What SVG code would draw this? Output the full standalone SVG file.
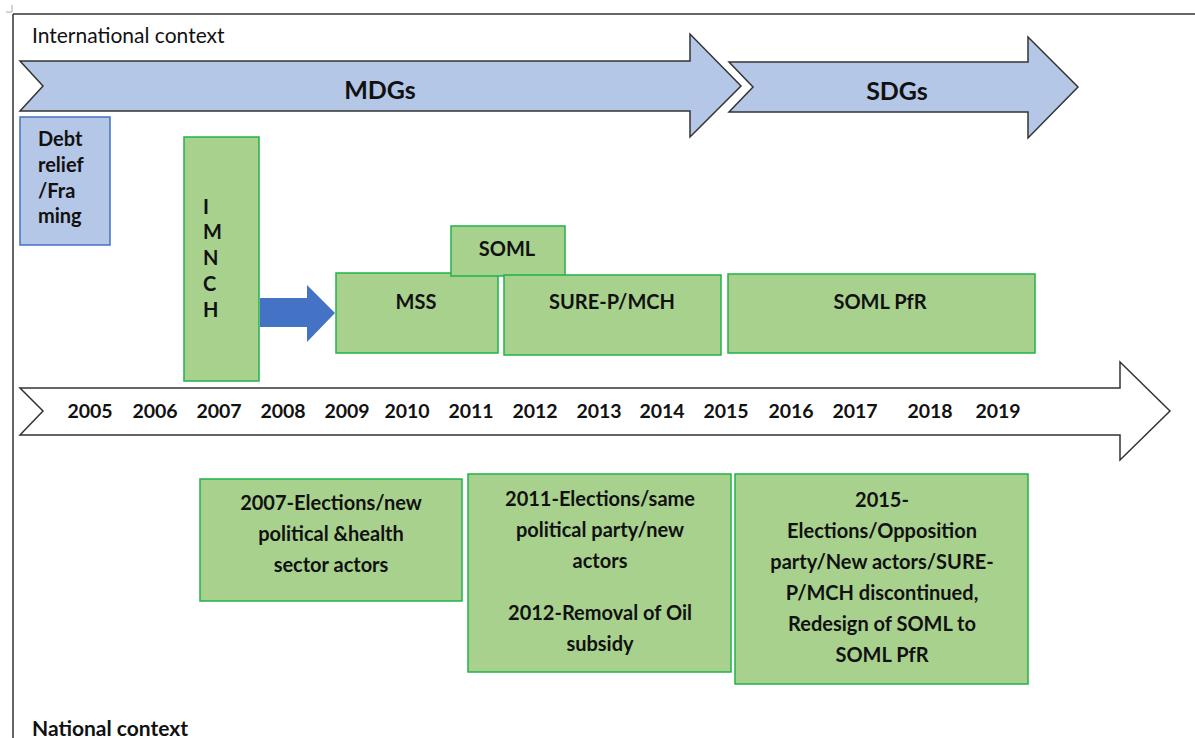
<svg xmlns="http://www.w3.org/2000/svg" width="1195" height="738" viewBox="0 0 1195 738">
  <style>
    text { font-family: Lato, "Liberation Sans", sans-serif; fill: #111; }
    .ctx { font-size: 21px; }
    .band { fill: #b4c7e7; stroke: #333; stroke-width: 1.5; }
    .band-label { font-size: 25px; font-weight: bold; text-anchor: middle; }
    .blue-box { fill: #b4c7e7; stroke: #4472c4; stroke-width: 1.5; }
    .green-box { fill: #a9d18e; stroke: #1fb24a; stroke-width: 1.5; }
    .lbl { font-size: 20px; font-weight: bold; }
    .mid { text-anchor: middle; }
    .year { font-size: 19.5px; font-weight: bold; text-anchor: middle; }
    .event { font-size: 20px; font-weight: bold; text-anchor: middle; }
    .timeline { fill: #fff; stroke: #333; stroke-width: 1.5; }
  </style>

  <!-- page frame -->
  <g id="frame" fill="none" stroke="#333" stroke-width="1.5">
    <line x1="13" y1="14" x2="1195" y2="14"/>
    <line x1="13" y1="14" x2="13" y2="738"/>
    <path d="M12 5 V12 H6" stroke="#aaa" stroke-width="1"/>
  </g>

  <text class="ctx" x="32" y="43">International context</text>
  <text class="ctx" x="32" y="736" font-weight="bold">National context</text>

  <!-- goal bands -->
  <g id="mdgs">
    <path class="band" d="M20 61 H690 V34 L741 86 L690 137 V111 H20 L43 86 Z"/>
    <text class="band-label" x="380" y="99">MDGs</text>
  </g>
  <g id="sdgs">
    <path class="band" d="M729 62 H1028 V37 L1078 87 L1028 138 V112 H729 L753 87 Z"/>
    <text class="band-label" x="897" y="100">SDGs</text>
  </g>

  <!-- international inputs -->
  <g id="debt-relief">
    <rect class="blue-box" x="20" y="117" width="90" height="128"/>
    <text class="lbl" x="38" y="146">Debt</text>
    <text class="lbl" x="38" y="172">relief</text>
    <text class="lbl" x="38" y="198">/Fra</text>
    <text class="lbl" x="38" y="223">ming</text>
  </g>

  <g id="imnch">
    <rect class="green-box" x="184" y="137" width="75" height="244"/>
    <text class="lbl" x="203" y="214" font-size="18">I</text>
    <text class="lbl" x="203" y="239" font-size="18">M</text>
    <text class="lbl" x="203" y="265" font-size="18">N</text>
    <text class="lbl" x="203" y="291" font-size="18">C</text>
    <text class="lbl" x="203" y="317" font-size="18">H</text>
  </g>

  <!-- programme boxes -->
  <g id="mss">
    <rect class="green-box" x="336" y="273" width="162" height="80"/>
    <text class="lbl mid" x="416" y="309">MSS</text>
  </g>
  <g id="soml">
    <rect class="green-box" x="451" y="226" width="114" height="50"/>
    <text class="lbl mid" x="507" y="256" font-size="19">SOML</text>
  </g>
  <g id="sure-p">
    <rect class="green-box" x="504" y="275" width="217" height="80"/>
    <text class="lbl mid" x="612" y="309">SURE-P/MCH</text>
  </g>
  <g id="soml-pfr">
    <rect class="green-box" x="728" y="274" width="307" height="79"/>
    <text class="lbl mid" x="880" y="309">SOML PfR</text>
  </g>

  <!-- connectors -->
  <g id="connectors">
    <path d="M260 298 H307 V285 L335 313 L307 342 V327 H260 Z" fill="#4472c4"/>
  </g>

  <!-- year timeline -->
  <g id="timeline">
    <path class="timeline" d="M20 388 H1120 V362 L1170 411 L1120 460 V435 H20 L43 411 Z"/>
    <text class="year" x="90" y="418">2005</text>
    <text class="year" x="155" y="418">2006</text>
    <text class="year" x="219" y="418">2007</text>
    <text class="year" x="283" y="418">2008</text>
    <text class="year" x="347" y="418">2009</text>
    <text class="year" x="407" y="418">2010</text>
    <text class="year" x="471" y="418">2011</text>
    <text class="year" x="535" y="418">2012</text>
    <text class="year" x="599" y="418">2013</text>
    <text class="year" x="662" y="418">2014</text>
    <text class="year" x="726" y="418">2015</text>
    <text class="year" x="791" y="418">2016</text>
    <text class="year" x="855" y="418">2017</text>
    <text class="year" x="930" y="418">2018</text>
    <text class="year" x="998" y="418">2019</text>
  </g>

  <!-- national events -->
  <g id="events-2007">
    <rect class="green-box" x="200" y="479" width="262" height="122"/>
    <text class="event" x="331" y="510">2007-Elections/new</text>
    <text class="event" x="331" y="541">political &amp;health</text>
    <text class="event" x="331" y="572">sector actors</text>
  </g>
  <g id="events-2011">
    <rect class="green-box" x="468" y="474" width="263" height="198"/>
    <text class="event" x="600" y="506">2011-Elections/same</text>
    <text class="event" x="600" y="537">political party/new</text>
    <text class="event" x="600" y="568">actors</text>
    <text class="event" x="600" y="620">2012-Removal of Oil</text>
    <text class="event" x="600" y="651">subsidy</text>
  </g>
  <g id="events-2015">
    <rect class="green-box" x="735" y="474" width="293" height="210"/>
    <text class="event" x="882" y="507">2015-</text>
    <text class="event" x="882" y="538">Elections/Opposition</text>
    <text class="event" x="882" y="569">party/New actors/SURE-</text>
    <text class="event" x="882" y="600">P/MCH discontinued,</text>
    <text class="event" x="882" y="631">Redesign of SOML to</text>
    <text class="event" x="882" y="662">SOML PfR</text>
  </g>
</svg>
